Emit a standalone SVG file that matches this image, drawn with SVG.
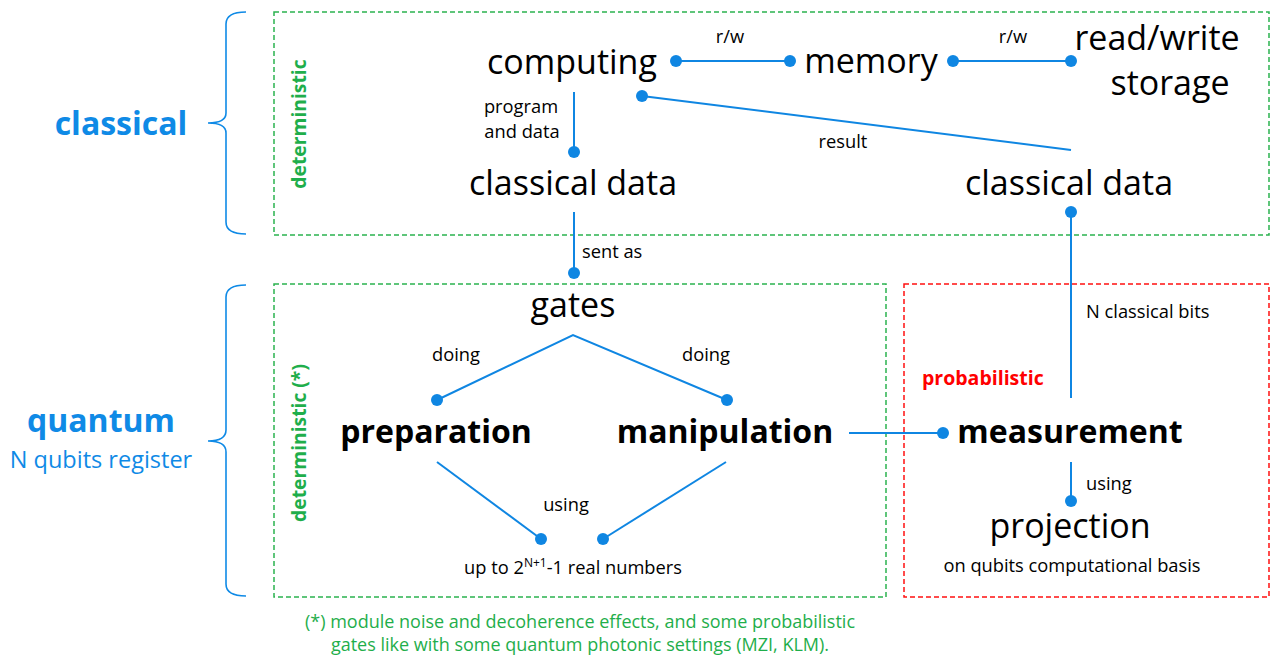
<svg xmlns="http://www.w3.org/2000/svg" width="1271" height="656" viewBox="0 0 1271 656">
<style>
text{font-family:"Open Sans","Liberation Sans",sans-serif;fill:#000}
.big{font-size:34px}
.bold{font-size:32px;font-weight:bold}
.sm{font-size:18.3px}
.m{text-anchor:middle}
.blue{fill:#0f8ae6}
.green{fill:#1fae4b}
.red{fill:#ff0000}
.gb{stroke:#2bb24f;stroke-width:1.5;stroke-dasharray:5 3;fill:none}
.rb{stroke:#ff1010;stroke-width:1.5;stroke-dasharray:5 3;fill:none}
.brace{stroke:#0f8ae6;stroke-width:1.6;fill:none}
.ln{stroke:#0f86e2;stroke-width:2;fill:none}
.dot{fill:#0f86e2}
</style>
<rect width="1271" height="656" fill="#fff"/>

<g id="classical-label">
<path class="brace" d="M246,12 Q226,12 226,24 L226,113 Q226,123 208,123 Q226,123 226,133 L226,222 Q226,234 246,234"/>
<text class="m blue" x="121" y="135" style="font-size:32px;font-weight:bold">classical</text>
</g>
<g id="quantum-label">
<path class="brace" d="M246,285 Q226,285 226,297 L226,430 Q226,441 208,441 Q226,441 226,452 L226,584 Q226,596 246,596"/>
<text class="m blue" x="101" y="432" style="font-size:32px;font-weight:bold">quantum</text>
<text class="m blue" x="101" y="468" style="font-size:23.5px">N qubits register</text>
</g>

<g id="classical-box">
<rect class="gb" x="274" y="12" width="995" height="223"/>
<text class="m green" transform="translate(306,124) rotate(-90)" style="font-size:19.3px;font-weight:bold">deterministic</text>
</g>
<g id="quantum-box">
<rect class="gb" x="274" y="284" width="612" height="313"/>
<text class="m green" transform="translate(306,443) rotate(-90)" style="font-size:19.3px;font-weight:bold">deterministic (*)</text>
</g>
<g id="measure-box">
<rect class="rb" x="904" y="284" width="365" height="313"/>
<text class="red" x="922" y="385" style="font-size:19.5px;font-weight:bold">probabilistic</text>
</g>

<g id="connectors">
<line class="ln" x1="676" y1="61" x2="790" y2="61"/>
<circle class="dot" cx="676" cy="61" r="6"/><circle class="dot" cx="790" cy="61" r="6"/>
<text class="sm m" x="730" y="43">r/w</text>
<line class="ln" x1="953" y1="61" x2="1071" y2="61"/>
<circle class="dot" cx="953" cy="61" r="6"/><circle class="dot" cx="1071" cy="61" r="6"/>
<text class="sm m" x="1013" y="43">r/w</text>
<line class="ln" x1="642" y1="96" x2="1071" y2="150"/>
<circle class="dot" cx="642" cy="96" r="6"/>
<text class="sm m" x="843" y="148">result</text>
<line class="ln" x1="574" y1="92" x2="574" y2="152"/>
<circle class="dot" cx="574" cy="152" r="6"/>
<text class="sm m" x="521" y="113">program</text>
<text class="sm m" x="522" y="138">and data</text>
<line class="ln" x1="574" y1="212" x2="574" y2="273"/>
<circle class="dot" cx="574" cy="273" r="6"/>
<text class="sm" x="582" y="258">sent as</text>
<line class="ln" x1="1071" y1="212" x2="1071" y2="398"/>
<circle class="dot" cx="1071" cy="212" r="6"/>
<text class="sm" x="1086" y="318">N classical bits</text>
<polyline class="ln" points="437,400 573,335 727,400"/>
<circle class="dot" cx="437" cy="400" r="6"/><circle class="dot" cx="727" cy="400" r="6"/>
<text class="sm m" x="456" y="361">doing</text>
<text class="sm m" x="706" y="361">doing</text>
<line class="ln" x1="437" y1="462" x2="541" y2="539"/>
<line class="ln" x1="726" y1="462" x2="603" y2="539"/>
<circle class="dot" cx="541" cy="539" r="6"/><circle class="dot" cx="603" cy="539" r="6"/>
<text class="sm m" x="566" y="511">using</text>
<line class="ln" x1="849" y1="433" x2="943" y2="433"/>
<circle class="dot" cx="943" cy="433" r="6"/>
<line class="ln" x1="1071" y1="462" x2="1071" y2="501"/>
<circle class="dot" cx="1071" cy="501" r="6"/>
<text class="sm" x="1086" y="490">using</text>
</g>

<g id="computing"><text class="big m" x="572" y="74">computing</text></g>
<g id="memory"><text class="big m" x="871" y="73">memory</text></g>
<g id="storage"><text class="big m" x="1157" y="50">read/write</text><text class="big m" x="1170" y="95">storage</text></g>
<g id="classical-data-in"><text class="big m" x="573" y="195">classical data</text></g>
<g id="classical-data-out"><text class="big m" x="1069" y="195">classical data</text></g>
<g id="gates"><text class="big m" x="573" y="317">gates</text></g>
<g id="preparation"><text class="bold m" x="436" y="443">preparation</text></g>
<g id="manipulation"><text class="bold m" x="725" y="443">manipulation</text></g>
<g id="measurement"><text class="bold m" x="1070" y="443">measurement</text></g>
<g id="real-numbers"><text class="sm m" x="573" y="574">up to 2<tspan dy="-7" style="font-size:12px">N+1</tspan><tspan dy="7">-1 real numbers</tspan></text></g>
<g id="projection"><text class="big m" x="1070" y="538">projection</text><text class="sm m" x="1072" y="572">on qubits computational basis</text></g>

<g id="footnote">
<text class="m green" x="580" y="628" style="font-size:18px">(*) module noise and decoherence effects, and some probabilistic</text>
<text class="m green" x="580" y="651" style="font-size:18px">gates like with some quantum photonic settings (MZI, KLM).</text>
</g>
</svg>
